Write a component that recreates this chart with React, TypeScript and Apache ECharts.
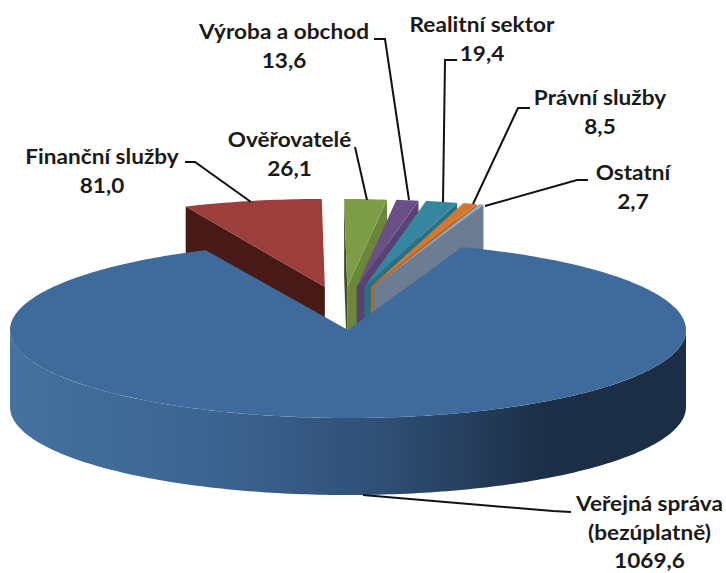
import React, { useEffect, useRef } from "react";
import * as echarts from "echarts";

const categories = ["Finanční služby", "Ověřovatelé", "Výroba a obchod", "Realitní sektor", "Právní služby", "Ostatní", "Veřejná správa"];
const values = [81.0, 26.1, 13.6, 19.4, 8.5, 2.7, 1069.6];
const valueLabels = ["81,0", "26,1", "13,6", "19,4", "8,5", "2,7", "1069,6"];
const topColors = ["#9C3F3C", "#7D9D47", "#6A5085", "#35869E", "#CF7A30", "#8FA9C9", "#3F6A9C"];
const wallColors = ["#471A17", "#6C873C", "#574271", "#2B6F83", "#B0652A", "#6B7C93", "#1B2E45"];

const START_ANGLE = 113.9;
const CX = 348, CY = 330, RX = 338, RY = 88, DEPTH = 77;
const total = values.reduce((a, b) => a + b, 0);
const rad = (d: number) => (d * Math.PI) / 180;

function renderItem(params: any, api: any) {
  const i = params.dataIndex;
  const val = api.value(0);
  let before = 0;
  for (let k = 0; k < i; k++) before += values[k];
  let a0 = START_ANGLE - (before / total) * 360;
  let a1 = a0 - (val / total) * 360;
  const mid = (a0 + a1) / 2;
  const exploded = Math.sin(rad(mid)) > 0;
  if (!exploded) {
    a0 += 1;
    a1 += 1;
  }
  const c = Math.cos(rad(mid));
  const ax = CX + (exploded ? -7 + (c < 0 ? 78 : 93) * c : 0);
  const ay = CY + (exploded ? -43 : 0);
  const arcX = exploded ? ax - 3 : ax;
  const rxOf = (a: number) => (!exploded ? RX : Math.cos(rad(a)) < 0 ? 336 : 320);
  const arc: number[][] = [];
  const n = Math.max(2, Math.ceil(Math.abs(a0 - a1)));
  for (let k = 0; k <= n; k++) {
    const a = a0 + ((a1 - a0) * k) / n;
    arc.push([arcX + rxOf(a) * Math.cos(rad(a)), ay - RY * Math.sin(rad(a))]);
  }
  const wall = (end: number[], fill: string) => ({
    type: "polygon",
    shape: { points: [[ax, ay], end, [end[0], end[1] + DEPTH], [ax, ay + DEPTH]] },
    style: { fill },
  });
  const children: any[] = [];
  if (exploded) {
    const isLeft = c < 0;
    if (!isLeft && arc[0][0] < ax) children.push(wall(arc[0], "#3F5020"));
    children.push(wall(isLeft ? arc[0] : arc[arc.length - 1], wallColors[i]));
  } else {
    const pts: number[][] = [];
    const bottom: number[][] = [];
    for (let a = 180; a <= 360; a += 1) {
      const x = CX + RX * Math.cos(rad(a));
      const y = CY - RY * Math.sin(rad(a));
      pts.push([x, y]);
      bottom.push([x, y + DEPTH]);
    }
    children.push({
      type: "polygon",
      shape: { points: pts.concat(bottom.reverse()) },
      style: {
        fill: new echarts.graphic.LinearGradient(
          CX - RX, 0, CX + RX, 0,
          [
            { offset: 0, color: "#44719F" },
            { offset: 0.3, color: "#3C6491" },
            { offset: 0.55, color: "#2F4F75" },
            { offset: 0.8, color: "#1B2E45" },
            { offset: 1, color: "#1B2E45" },
          ],
          true
        ),
      },
    });
  }
  children.push({
    type: "polygon",
    shape: { points: [[ax, ay], ...arc] },
    style: { fill: topColors[i] },
  });
  return { type: "group", children };
}

const FONT = "Lato";
const labelRows = [
  { idx: 0, x: 102, y: 157 },
  { idx: 1, x: 289.5, y: 140 },
  { idx: 2, x: 284, y: 32 },
  { idx: 3, x: 482, y: 25 },
  { idx: 4, x: 600, y: 98 },
  { idx: 5, x: 633, y: 173 },
];
const leaders = [
  [[185, 162], [195, 162], [251, 202]],
  [[355, 147], [367, 200]],
  [[374, 39], [385, 39], [409, 200]],
  [[457, 60], [445, 60], [443, 202]],
  [[530, 108], [518, 108], [473, 204]],
  [[588, 180], [577, 180], [485, 206]],
  [[571, 512], [553, 511], [363, 495]],
];

function textEl(text: string, x: number, y: number) {
  return {
    type: "text",
    x,
    y,
    scaleX: 1.13,
    silent: true,
    z: 11,
    style: {
      text,
      x: 0,
      y: 0,
      fill: "#1A1A1A",
      font: `bold 20px ${FONT}`,
      align: "center",
      verticalAlign: "middle",
    },
  };
}

export default function App() {
  const ref = useRef<HTMLDivElement>(null);
  useEffect(() => {
    const chart = echarts.init(ref.current!, null, { renderer: "svg" });
    const graphics: any[] = [];
    leaders.forEach((pts) => {
      graphics.push({
        type: "polyline",
        z: 10,
        shape: { points: pts },
        style: { stroke: "#111", lineWidth: 2, fill: "none" },
      });
    });
    labelRows.forEach((l) => {
      graphics.push(textEl(categories[l.idx], l.x, l.y));
      graphics.push(textEl(valueLabels[l.idx], l.x, l.y + 29));
    });
    graphics.push(textEl(categories[6], 649.5, 504));
    graphics.push(textEl("(bezúplatně)", 649.5, 533));
    graphics.push(textEl(valueLabels[6], 649.5, 561));
    chart.setOption({
      animation: false,
      backgroundColor: "#fff",
      series: [
        {
          type: "custom",
          coordinateSystem: "none",
          renderItem,
          silent: true,
          clip: false,
          data: values.map((v, i) => ({ name: categories[i], value: [v] })),
        },
      ],
      graphic: graphics,
    });
    return () => chart.dispose();
  }, []);
  return <div ref={ref} style={{ position: "absolute", left: 0, top: 0, width: 726, height: 573 }} />;
}
